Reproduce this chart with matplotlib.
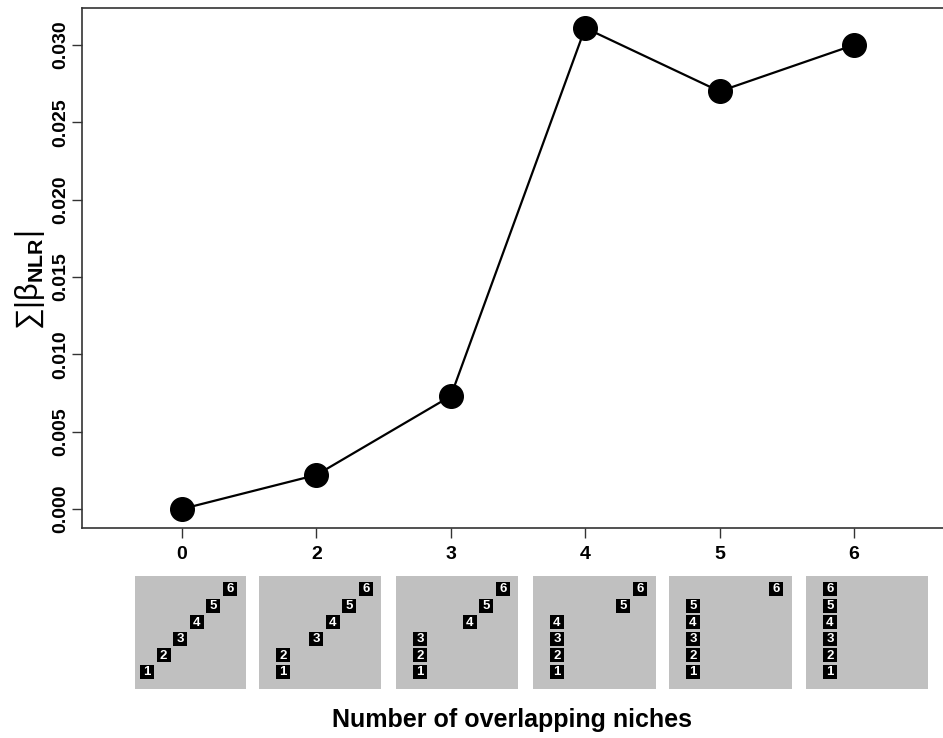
import matplotlib
matplotlib.use("Agg")
import matplotlib.pyplot as plt
from matplotlib.patches import Rectangle

plt.rcParams['font.family'] = ['Liberation Sans', 'DejaVu Sans']
plt.rcParams['mathtext.fontset'] = 'custom'
plt.rcParams['mathtext.rm'] = 'Liberation Sans'
plt.rcParams['mathtext.bf'] = 'Liberation Sans:bold'
plt.rcParams['mathtext.it'] = 'Liberation Sans:italic'

# ---- data ----
overlap_labels = ["0", "2", "3", "4", "5", "6"]
sum_beta = [0.0000, 0.0022, 0.0073, 0.0311, 0.0270, 0.0300]
y_ticks = [0.000, 0.005, 0.010, 0.015, 0.020, 0.025, 0.030]
y_tick_labels = ["0.000", "0.005", "0.010", "0.015", "0.020", "0.025", "0.030"]

niche_ids = [1, 2, 3, 4, 5, 6]
niche_rows = [0, 1, 2, 3, 4, 5]
panel_cols = [
    [0, 1, 2, 3, 4, 5],
    [1, 1, 3, 4, 5, 6],
    [1, 1, 1, 4, 5, 6],
    [1, 1, 1, 1, 5, 6],
    [1, 1, 1, 1, 1, 6],
    [1, 1, 1, 1, 1, 1],
]

W, H = 943, 738
fig = plt.figure(figsize=(W / 100, H / 100), dpi=100)

def px_rect(l, t, r, b):
    return [l / W, (H - b) / H, (r - l) / W, (b - t) / H]

ax = fig.add_axes(px_rect(82, 8, 943, 528))
xpos = list(range(len(overlap_labels)))
ax.plot(xpos, sum_beta, color='black', lw=1.6, marker='o', ms=17,
        mfc='black', mec='black', zorder=3, clip_on=False)
ax.set_xlim(-0.744, 5.662)
ax.set_ylim(-0.00123, 0.03239)
ax.set_xticks(xpos)
ax.set_xticklabels(overlap_labels, fontsize=14, fontweight='bold')
ax.set_yticks(y_ticks)
ax.set_yticklabels(y_tick_labels, fontsize=14, fontweight='bold', rotation=90,
                   va='center')
ax.tick_params(axis='both', direction='out', length=7, width=1, color='#333333')
ax.tick_params(axis='x', pad=6)
ax.tick_params(axis='y', pad=2)
for s in ['left', 'bottom', 'top']:
    ax.spines[s].set_color('#333333')
    ax.spines[s].set_linewidth(1.2)
ax.spines['right'].set_visible(False)

fig.text(30 / W, 1 - 280 / H, r'$\sum|\mathrm{\beta}_{\mathbf{NLR}}|$', fontsize=22,
         rotation=90, ha='center', va='center')

# ---- niche panels ----
panel_boxes = [(135, 111), (259, 122), (396, 122), (533, 123), (669, 123), (806, 122)]
panel_top, panel_bot = 576, 689
cell = 16.6
sq = 0.84
for i, (left, width) in enumerate(panel_boxes):
    pax = fig.add_axes(px_rect(left, panel_top, left + width, panel_bot))
    pax.set_facecolor('#c0c0c0')
    for s in pax.spines.values():
        s.set_visible(False)
    pax.set_xticks([])
    pax.set_yticks([])
    off = 5 if i == 0 else 0.4
    pax.set_xlim(-off / cell, (width - off) / cell)
    pax.set_ylim(-10 / cell, (panel_bot - panel_top - 10) / cell)
    for nid, c, r in zip(niche_ids, panel_cols[i], niche_rows):
        pax.add_patch(Rectangle((c, r), sq, sq, facecolor='black', edgecolor='none'))
        pax.text(c + sq / 2, r + sq / 2 - 0.02, str(nid), color='white',
                 fontsize=9.5, fontweight='bold', ha='center', va='center')

fig.text(512 / W, 1 - 720 / H, 'Number of overlapping niches', fontsize=18,
         fontweight='bold', ha='center', va='center')

fig.savefig('out.png', dpi=100)
